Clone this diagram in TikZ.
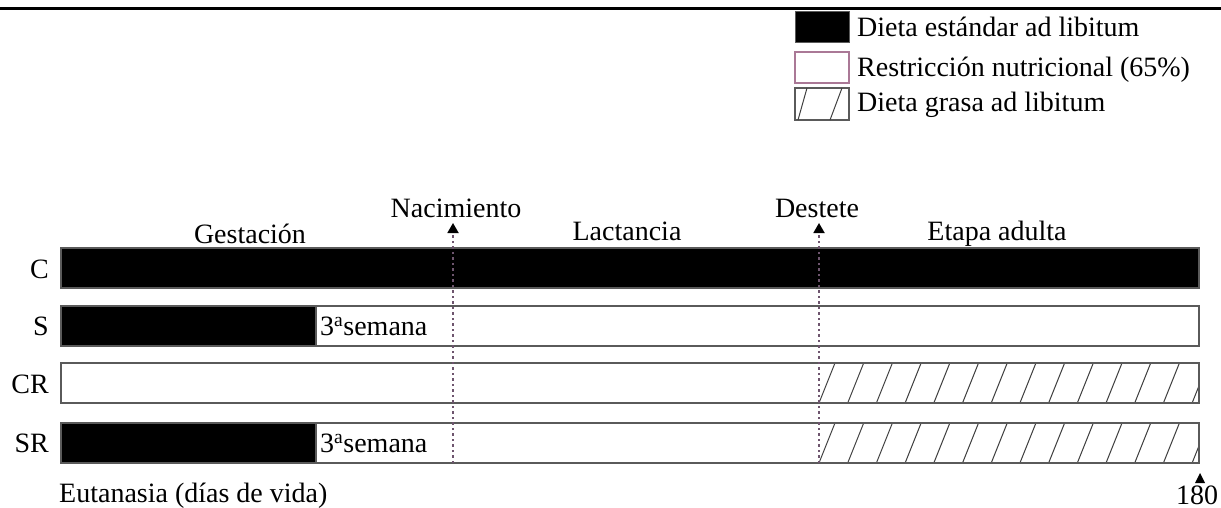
\documentclass[tikz,border=0pt]{standalone}
\usepackage{fontspec}
\setmainfont{Liberation Serif}
\usetikzlibrary{arrows.meta}
\definecolor{barline}{RGB}{90,90,90}
\definecolor{dashcol}{RGB}{110,85,110}
\definecolor{pinkline}{RGB}{170,120,150}
\begin{document}
\begin{tikzpicture}[x=1pt,y=-1pt,
  lbl/.style={font=\fontsize{28}{32}\selectfont, inner sep=0pt},
  barbox/.style={draw=barline, line width=1.4pt},
  hatchline/.style={draw=black!75, line width=1pt},
  dline/.style={draw=dashcol, line width=1.8pt, dash pattern=on 2.5pt off 3pt,
     -{Triangle[width=11pt,length=10pt,color=black,fill=black]}},
  tri/.style={fill=black}]
\useasboundingbox (0,0) rectangle (1221,508);
% top rule
\draw[line width=3pt] (0,9) -- (1221,9);
% legend
\fill[black] (795,12) rectangle (849,43);
\draw[draw=barline, line width=1pt] (795,12) rectangle (849,43);
\node[lbl, anchor=base west] (leg1) at (857,37) {Dieta estándar ad libitum};
\draw[draw=pinkline, line width=1.2pt, fill=white] (795,52) rectangle (849,83);
\node[lbl, anchor=base west] (leg2) at (857,77) {Restricción nutricional (65\%)};
\draw[draw=barline, line width=1.2pt] (795,88) rectangle (849,120);
\draw[hatchline] (798,120) -- (807,88);
\draw[hatchline] (830,120) -- (842,88);
\node[lbl, anchor=base west] (leg3) at (857,112) {Dieta grasa ad libitum};
% phase labels
\node[lbl, anchor=base] (gest) at (250,243) {Gestación};
\node[lbl, anchor=base] (nac) at (456,217) {Nacimiento};
\node[lbl, anchor=base] (lact) at (627,240) {Lactancia};
\node[lbl, anchor=base] (dest) at (817,217) {Destete};
\node[lbl, anchor=base] (adult) at (997,240) {Etapa adulta};
% row labels
\node[lbl, anchor=east] (lC) at (49,269) {C};
\node[lbl, anchor=east] (lS) at (49,326) {S};
\node[lbl, anchor=east] (lCR) at (49,384) {CR};
\node[lbl, anchor=east] (lSR) at (49,443) {SR};
% C bar
\draw[barbox, fill=black] (61,248) rectangle (1199,288);
% S bar
\fill[black] (61,306) rectangle (316,346);
\draw[barbox] (61,306) rectangle (1199,346);
\draw[barbox] (316,306) -- (316,346);
\node[lbl, anchor=west] (s3) at (320,326) {3\textsuperscript{a}semana};
% CR bar
\begin{scope}
\clip (819,363) rectangle (1199,403);
\foreach \i in {0,...,14} \draw[hatchline] (819+28.7*\i,403) -- ++(16,-40);
\end{scope}
\draw[barbox] (61,363) rectangle (1199,403);
% SR bar
\fill[black] (61,423) rectangle (316,463);
\begin{scope}
\clip (819,423) rectangle (1199,463);
\foreach \i in {0,...,14} \draw[hatchline] (819+28.7*\i,463) -- ++(16,-40);
\end{scope}
\draw[barbox] (61,423) rectangle (1199,463);
\draw[barbox] (316,423) -- (316,463);
\node[lbl, anchor=west] (sr3) at (320,443) {3\textsuperscript{a}semana};
% event lines
\coordinate (nacB) at (453,463);
\coordinate (nacT) at (453,223);
\coordinate (destB) at (819,463);
\coordinate (destT) at (819,223);
\draw[dline] (nacB) -- (nacT);
\draw[dline] (destB) -- (destT);
% bottom
\node[lbl, anchor=base west] (eut) at (59,502) {Eutanasia (días de vida)};
\fill[tri] (1195,483) -- (1205,483) -- (1200,473) -- cycle;
\node[lbl, anchor=base] (d180) at (1197,504) {180};
\end{tikzpicture}
\end{document}
